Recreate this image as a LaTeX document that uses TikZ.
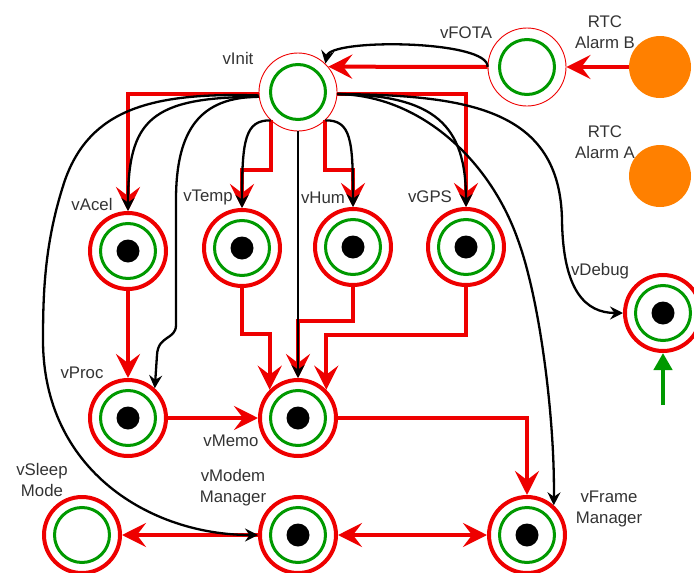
\documentclass[tikz,border=0pt]{standalone}
\usepackage{fontspec}
\setmainfont{Liberation Sans}
\usetikzlibrary{arrows.meta,calc}
\definecolor{tred}{HTML}{EE0000}
\definecolor{tgreen}{HTML}{009900}
\definecolor{torange}{HTML}{FF8000}
\definecolor{tgray}{HTML}{333333}
\tikzset{
 task/.style={circle, draw=tred, line width=4pt, minimum size=76pt, inner sep=0pt},
 taskthin/.style={circle, draw=tred, line width=0.9pt, minimum size=78pt, inner sep=0pt},
 ring/.style={circle, draw=tgreen, line width=3pt, minimum size=55pt, inner sep=0pt},
 dot/.style={circle, fill=black, minimum size=23pt, inner sep=0pt},
 rtc/.style={circle, fill=torange, minimum size=62pt, inner sep=0pt},
 lbl/.style={text=tgray, align=center, font=\fontsize{16.8}{21}\selectfont, inner sep=0pt},
 redtip/.tip={Stealth[length=24pt,width=24pt,inset=9pt]},
 redarr/.style={draw=tred, line width=4pt, -redtip},
 redboth/.style={draw=tred, line width=4pt, redtip-redtip},
 blkarr/.style={draw=black, line width=2.3pt, -{Stealth[length=13pt,width=13pt,inset=4.5pt]}},
 grnarr/.style={draw=tgreen, line width=4.5pt, -{Triangle[length=17pt,width=18pt]}},
}
\newcommand\mktask[3]{\node[task] (#1) at (#2,#3) {}; \node[ring] (#1-g) at (#1) {}; \node[dot] (#1-d) at (#1) {};}
\begin{document}
\begin{tikzpicture}[x=1pt,y=-1pt]
\useasboundingbox (0,0) rectangle (694,573);
% nodes
\node[taskthin] (vInit) at (298,92) {}; \node[ring] (vInit-g) at (vInit) {};
\node[taskthin] (vFOTA) at (527,67) {}; \node[ring] (vFOTA-g) at (vFOTA) {};
\node[rtc] (rtcB) at (660,67) {};
\node[rtc] (rtcA) at (660,176) {};
\mktask{vAcel}{128}{251}
\mktask{vTemp}{242}{248}
\mktask{vHum}{353}{247}
\mktask{vGPS}{466}{247}
\mktask{vDebug}{663}{313}
\mktask{vProc}{128}{418}
\mktask{vMemo}{298}{418}
\node[task] (vSleep) at (82,535) {}; \node[ring] (vSleep-g) at (vSleep) {};
\mktask{vModem}{298}{535}
\mktask{vFrame}{527}{535}
% labels
\node[lbl] (l-init) at (238,58) {vInit};
\node[lbl] (l-fota) at (466,33) {vFOTA};
\node[lbl] (l-rtcb) at (605,32) {RTC\\Alarm B};
\node[lbl] (l-rtca) at (605,142) {RTC\\Alarm A};
\node[lbl] (l-acel) at (92,204) {vAcel};
\node[lbl] (l-temp) at (208,197) {vTemp};
\node[lbl] (l-hum) at (323,198) {vHum};
\node[lbl] (l-gps) at (430,197) {vGPS};
\node[lbl] (l-debug) at (600,271) {vDebug};
\node[lbl] (l-proc) at (82,373) {vProc};
\node[lbl] (l-memo) at (231,441) {vMemo};
\node[lbl] (l-sleep) at (42,480) {vSleep\\Mode};
\node[lbl] (l-modem) at (233,488) {vModem\\Manager};
\node[lbl] (l-frame) at (609,509) {vFrame\\Manager};
% red connectors
\draw[redarr] (rtcB) -- (vFOTA);
\draw[redarr] (vFOTA.west) -- (vInit.40);
\draw[redarr] (vInit.183) -| (vAcel);
\draw[redarr] (vInit.-134) -- ++(0,50) -| (vTemp);
\draw[redarr] (vInit.-46) -- ++(0,50) -| (vHum);
\draw[redarr] (vInit.-3) -| (vGPS);
\draw[redarr] (vAcel) -- (vProc);
\draw[redarr] (vTemp.south) -- ++(0,46) -| (vMemo.135);
\draw[redarr] (vHum.south) -- ++(0,34) -| (vMemo.north);
\draw[redarr] (vGPS.south) -- ++(0,48) -| (vMemo.45);
\draw[redarr] (vProc) -- (vMemo);
\draw[redarr] (vMemo.east) -| (vFrame);
\draw[redarr] (vModem) -- (vSleep);
\draw[redboth] (vModem) -- (vFrame);
% black connectors
\draw[blkarr] (vFOTA.west) .. controls (490,40) and (330,38) .. (vInit.46);
\draw[blkarr] (vInit.187) .. controls (150,97) and (128,120) .. (vAcel.north);
\draw[blkarr] (vInit.187) .. controls (200,97) and (176,130) .. (176,200) -- (176,325) .. controls (176,340) and (158,335) .. (157,355) -- (vProc.48);
\draw[blkarr] (vInit.185) .. controls (150,92) and (90,110) .. (65,180) .. controls (45,240) and (43,290) .. (43,340) .. controls (43,470) and (150,535) .. (vModem.west);
\draw[blkarr] (vInit.-134) .. controls (245,120) and (242,140) .. (vTemp.north);
\draw[blkarr] (vInit.-46) .. controls (351,120) and (353,140) .. (vHum.north);
\draw[blkarr] (vInit) -- (vMemo);
\draw[blkarr] (vInit.-3) .. controls (435,95) and (466,125) .. (vGPS.north);
\draw[blkarr] (vInit.-3) .. controls (420,95) and (490,160) .. (518,240) .. controls (540,300) and (555,420) .. (vFrame.48);
\draw[blkarr] (vInit.-3) .. controls (470,95) and (560,110) .. (562,220) .. controls (563,290) and (585,313) .. (vDebug.west);
\coordinate (dbgsrc) at (663,405);
\draw[grnarr] (dbgsrc) -- (vDebug);
\end{tikzpicture}
\end{document}
